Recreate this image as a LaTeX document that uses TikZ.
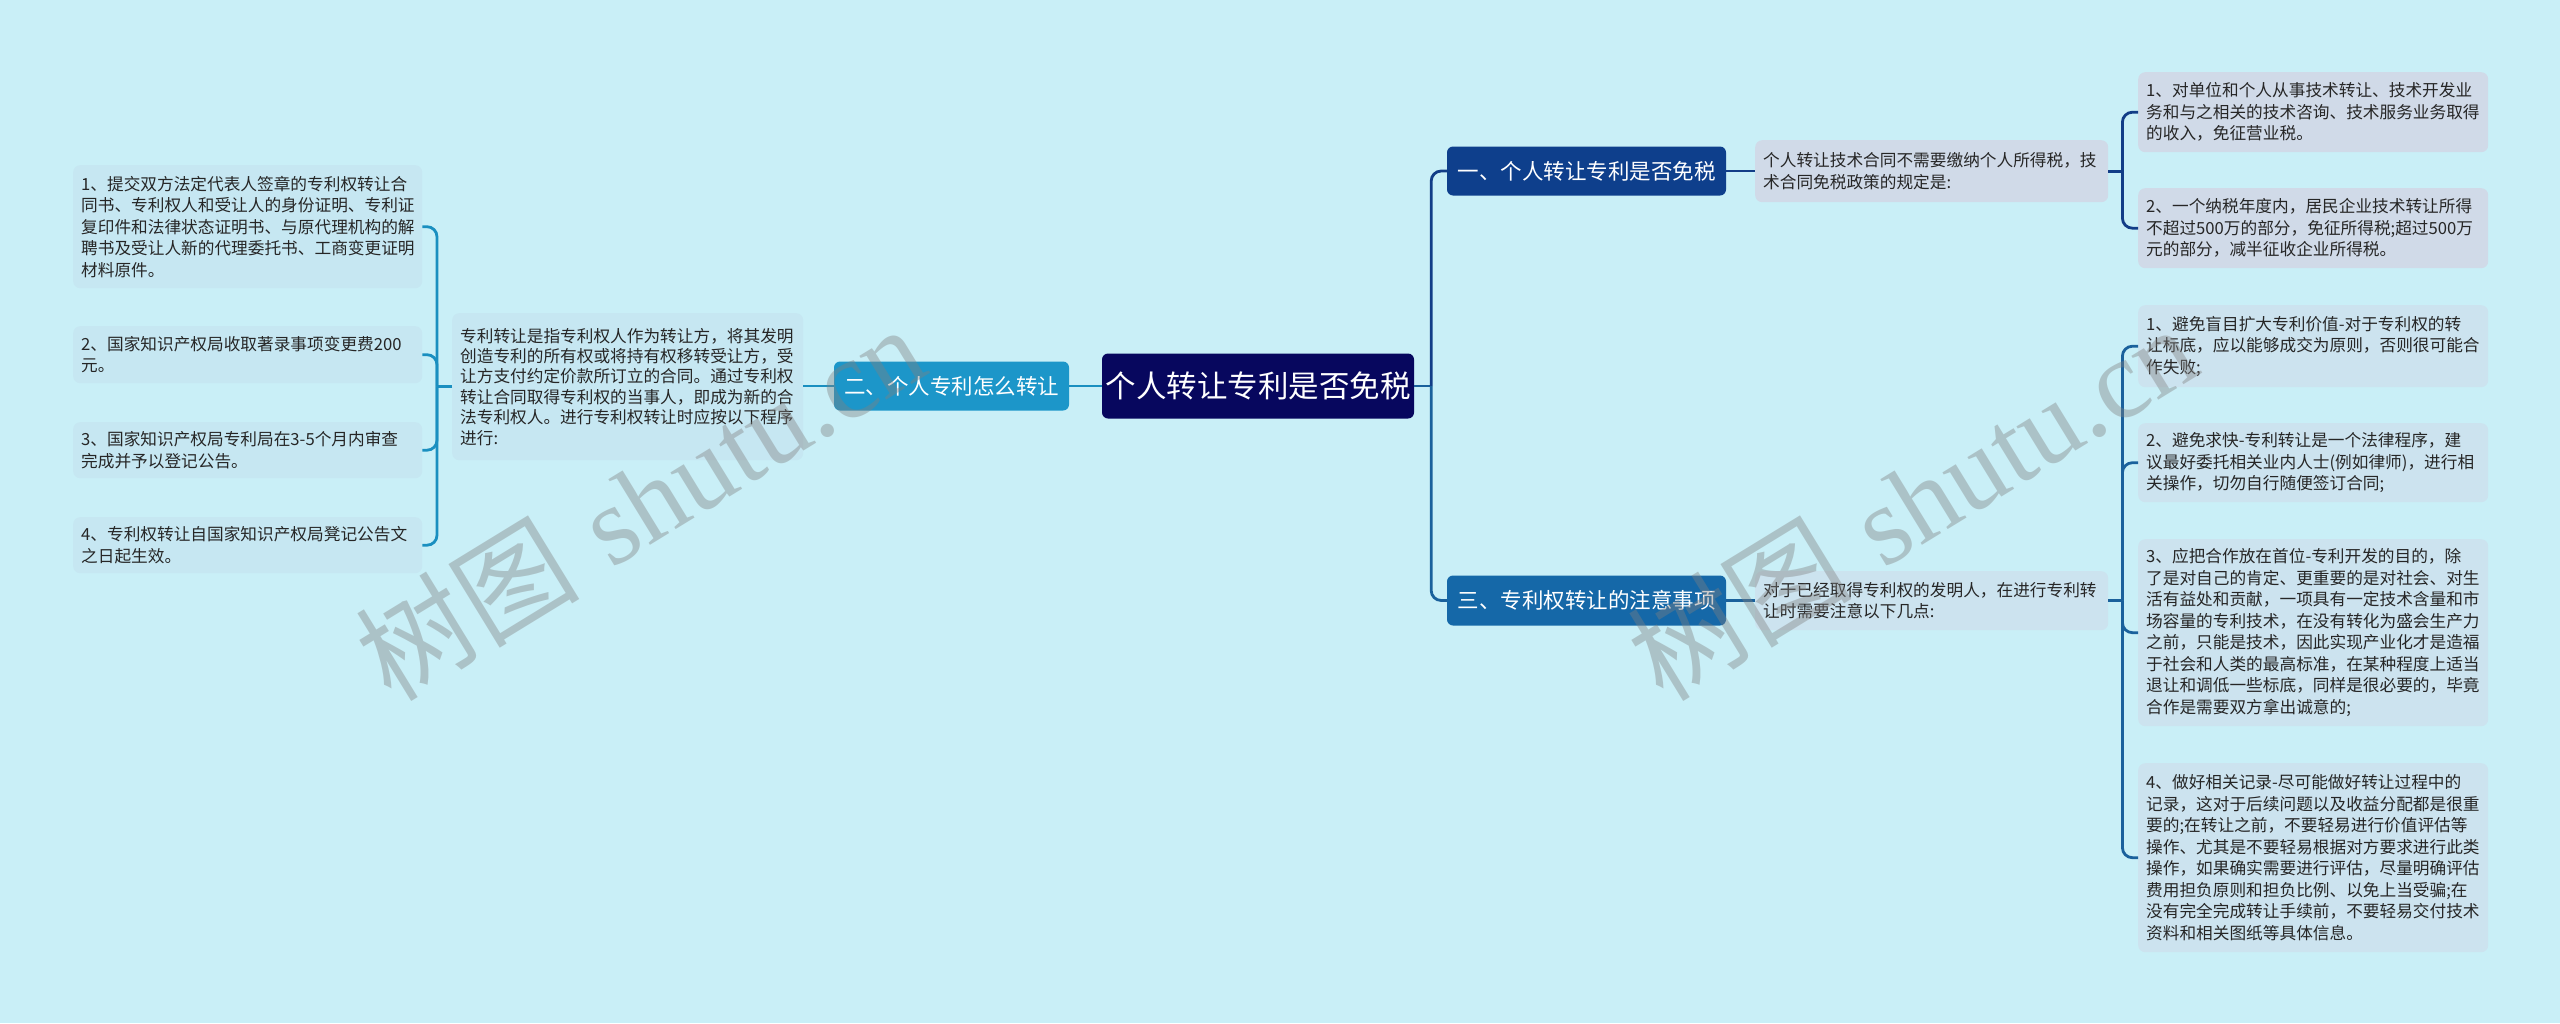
\documentclass[tikz,border=0pt]{standalone}
\usepackage{fontspec}
\newfontfamily\cjk{Noto Sans CJK SC}
\newfontfamily\wmserif{Liberation Serif}
\usetikzlibrary{calc}
\definecolor{bgc}{HTML}{C9EFF7}
\definecolor{rootc}{HTML}{07075E}
\definecolor{onec}{HTML}{0E3F8C}
\definecolor{twoc}{HTML}{1C96C9}
\definecolor{threec}{HTML}{1568A8}
\definecolor{onel}{HTML}{123D87}
\definecolor{twol}{HTML}{1A8FC0}
\definecolor{threel}{HTML}{1A619C}
\definecolor{leafone}{HTML}{D0DAE8}
\definecolor{leafthree}{HTML}{CCE3EF}
\definecolor{leaftwo}{HTML}{C6E7F2}
\definecolor{txt}{HTML}{262626}
\tikzset{
  mainbox/.style={rounded corners=6pt, inner sep=0pt, text=white, align=center},
  leafbox/.style={rounded corners=7pt, inner xsep=8pt, inner ysep=0pt, align=left, text=txt,
    anchor=north west, font=\cjk\fontsize{16.67}{21.5}\selectfont},
  conn/.style={line width=2.8pt, rounded corners=10pt},
  wm/.style={text=gray, opacity=0.4, font=\fontsize{112}{120}\selectfont, inner sep=0pt}
}
\begin{document}
\begin{tikzpicture}[x=1pt,y=-1pt]
\fill[bgc] (0,0) rectangle (2560,1023);
\useasboundingbox (0,0) rectangle (2560,1023);

% main nodes
\node[mainbox, fill=rootc, minimum width=312pt, minimum height=65pt, font=\cjk\fontsize{30.5}{36}\selectfont] (root) at (1258,386) {个人转让专利是否免税};
\node[mainbox, fill=twoc, minimum width=235pt, minimum height=49pt, font=\cjk\fontsize{21.5}{26}\selectfont] (n2) at (951.5,386) {二、个人专利怎么转让};
\node[mainbox, fill=onec, minimum width=279pt, minimum height=49pt, font=\cjk\fontsize{21.5}{26}\selectfont] (n1) at (1586.5,171) {一、个人转让专利是否免税};
\node[mainbox, fill=threec, minimum width=279pt, minimum height=50pt, font=\cjk\fontsize{21.5}{26}\selectfont] (n3) at (1586.5,600.5) {三、专利权转让的注意事项};

% descriptions
\node[leafbox, fill=leaftwo, minimum width=351pt, text width=335pt, minimum height=147pt, font=\cjk\fontsize{16.67}{20.4}\selectfont] (d2) at (452,313) {专利转让是指专利权人作为转让方，将其发明\\创造专利的所有权或将持有权移转受让方，受\\让方支付约定价款所订立的合同。通过专利权\\转让合同取得专利权的当事人，即成为新的合\\法专利权人。进行专利权转让时应按以下程序\\进行:};
\node[leafbox, fill=leafone, minimum width=353pt, text width=337pt, minimum height=62pt] (d1) at (1755,140) {个人转让技术合同不需要缴纳个人所得税，技\\术合同免税政策的规定是:};
\node[leafbox, fill=leafthree, minimum width=353pt, text width=337pt, minimum height=59pt] (d3) at (1755,571) {对于已经取得专利权的发明人，在进行专利转\\让时需要注意以下几点:};

% left leaves
\node[leafbox, fill=leaftwo, minimum width=349pt, text width=333pt, minimum height=123pt] (l1) at (73,165) {1、提交双方法定代表人签章的专利权转让合\\同书、专利权人和受让人的身份证明、专利证\\复印件和法律状态证明书、与原代理机构的解\\聘书及受让人新的代理委托书、工商变更证明\\材料原件。};
\node[leafbox, fill=leaftwo, minimum width=349pt, text width=333pt, minimum height=57pt] (l2) at (73,326) {2、国家知识产权局收取著录事项变更费200\\元。};
\node[leafbox, fill=leaftwo, minimum width=349pt, text width=333pt, minimum height=56pt] (l3) at (73,422) {3、国家知识产权局专利局在3-5个月内审查\\完成并予以登记公告。};
\node[leafbox, fill=leaftwo, minimum width=349pt, text width=333pt, minimum height=56pt] (l4) at (73,517) {4、专利权转让自国家知识产权局凳记公告文\\之日起生效。};

% right leaves (branch one)
\node[leafbox, fill=leafone, minimum width=350pt, text width=334pt, minimum height=80pt] (r1a) at (2138,72) {1、对单位和个人从事技术转让、技术开发业\\务和与之相关的技术咨询、技术服务业务取得\\的收入，免征营业税。};
\node[leafbox, fill=leafone, minimum width=350pt, text width=334pt, minimum height=80pt] (r1b) at (2138,188) {2、一个纳税年度内，居民企业技术转让所得\\不超过500万的部分，免征所得税;超过500万\\元的部分，减半征收企业所得税。};

% right leaves (branch three)
\node[leafbox, fill=leafthree, minimum width=350pt, text width=334pt, minimum height=82pt] (r3a) at (2138,305) {1、避免盲目扩大专利价值-对于专利权的转\\让标底，应以能够成交为原则，否则很可能合\\作失败;};
\node[leafbox, fill=leafthree, minimum width=350pt, text width=334pt, minimum height=79pt] (r3b) at (2138,423) {2、避免求快-专利转让是一个法律程序，建\\议最好委托相关业内人士(例如律师)，进行相\\关操作，切勿自行随便签订合同;};
\node[leafbox, fill=leafthree, minimum width=350pt, text width=334pt, minimum height=187pt] (r3c) at (2138,539) {3、应把合作放在首位-专利开发的目的，除\\了是对自己的肯定、更重要的是对社会、对生\\活有益处和贡献，一项具有一定技术含量和市\\场容量的专利技术，在没有转化为盛会生产力\\之前，只能是技术，因此实现产业化才是造福\\于社会和人类的最高标准，在某种程度上适当\\退让和调低一些标底，同样是很必要的，毕竟\\合作是需要双方拿出诚意的;};
\node[leafbox, fill=leafthree, minimum width=350pt, text width=334pt, minimum height=189pt] (r3d) at (2138,763) {4、做好相关记录-尽可能做好转让过程中的\\记录，这对于后续问题以及收益分配都是很重\\要的;在转让之前，不要轻易进行价值评估等\\操作、尤其是不要轻易根据对方要求进行此类\\操作，如果确实需要进行评估，尽量明确评估\\费用担负原则和担负比例、以免上当受骗;在\\没有完全完成转让手续前，不要轻易交付技术\\资料和相关图纸等具体信息。};

% junctions
\coordinate (j0) at ([xshift=17pt]root.east);
\coordinate (j1) at ([xshift=14pt]d1.east);
\coordinate (j3) at ([xshift=14pt]d3.east);
\coordinate (j2) at ([xshift=-15pt]d2.west);

% connectors
\draw[conn, threel] (root.east) -- (j0);
\draw[conn, onel] (j0) |- (n1.west);
\draw[conn, threel] (j0) |- (n3.west);
\draw[conn, twol] (root.west) -- (n2.east);
\draw[conn, twol] (n2.west) -- (n2.west -| d2.east);
\draw[conn, onel] (n1.east) -- (n1.east -| d1.west);
\draw[conn, threel] (n3.east) -- (n3.east -| d3.west);

\draw[conn, onel] (d1.east) -- (j1);
\draw[conn, onel] (j1) |- (r1a.west);
\draw[conn, onel] (j1) |- (r1b.west);

\draw[conn, threel] (d3.east) -- (j3);
\draw[conn, threel] (j3) |- (r3a.west);
\draw[conn, threel] (j3) |- (r3b.west);
\draw[conn, threel] (j3) |- (r3c.west);
\draw[conn, threel] (j3) |- (r3d.west);

\draw[conn, twol] (d2.west) -- (j2);
\draw[conn, twol] (j2) |- (l1.east);
\draw[conn, twol] (j2) |- (l2.east);
\draw[conn, twol] (j2) |- (l3.east);
\draw[conn, twol] (j2) |- (l4.east);

% watermarks
\node[wm, rotate=31.5] (wm1) at (640,502) {{\cjk 树图} {\wmserif shutu.cn}};
\node[wm, rotate=31.5] (wm2) at (1912,502) {{\cjk 树图} {\wmserif shutu.cn}};
\end{tikzpicture}
\end{document}
